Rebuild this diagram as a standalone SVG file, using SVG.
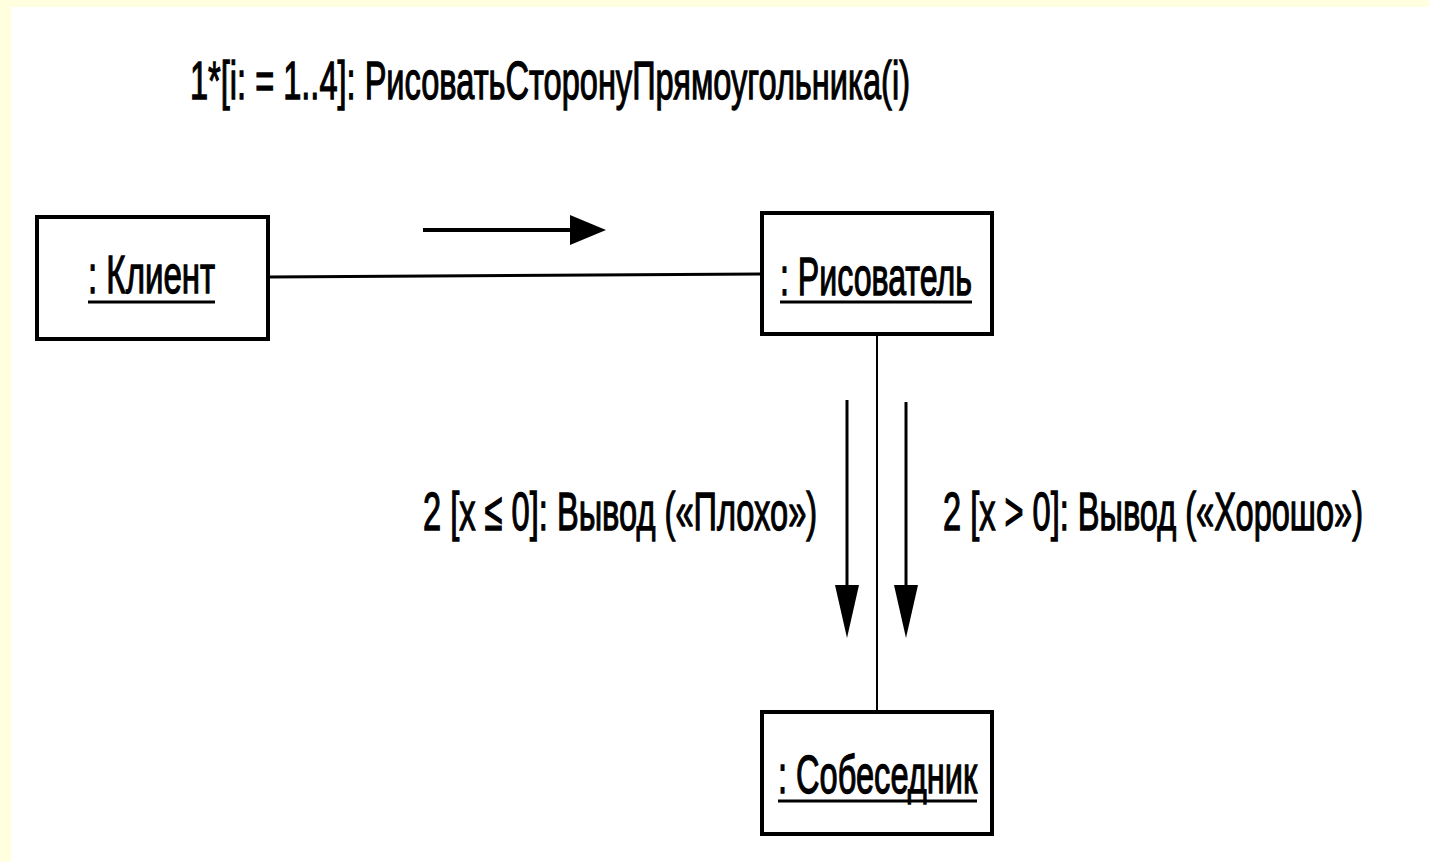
<svg xmlns="http://www.w3.org/2000/svg" width="1429" height="862" viewBox="0 0 1429 862">
<style>
.box{fill:#fff;stroke:#000;stroke-width:4}
.t{font-family:"Liberation Sans",Arial,sans-serif;font-size:54px;fill:#000;stroke:#000;stroke-width:1.3}
.ul{stroke:#000;stroke-width:3}
.ln{stroke:#000;fill:none}
</style>
<rect x="0" y="0" width="1429" height="862" fill="#FFFFE0"/>
<rect x="11" y="7" width="1418" height="855" fill="#fff"/>
<g id="connectors">
<line class="ln" x1="268" y1="277" x2="762" y2="274" stroke-width="3"/>
<line class="ln" x1="877" y1="335" x2="877" y2="712" stroke-width="2"/>
<line class="ln" x1="423" y1="230" x2="575" y2="230" stroke-width="4"/>
<path d="M570,215 L606,230 L570,245 Z" fill="#000"/>
<line class="ln" x1="847" y1="400" x2="847" y2="590" stroke-width="3"/>
<path d="M835,585 L847,638 L859,585 Z" fill="#000"/>
<line class="ln" x1="906" y1="402" x2="906" y2="590" stroke-width="3"/>
<path d="M894,585 L906,638 L918,585 Z" fill="#000"/>
<text class="t" transform="translate(190,99) scale(0.6,1)" textLength="1200" lengthAdjust="spacingAndGlyphs">1*[i: = 1..4]: РисоватьСторонуПрямоугольника(i)</text>
<text class="t" transform="translate(423,530) scale(0.6,1)" textLength="657" lengthAdjust="spacingAndGlyphs">2 [x ≤ 0]: Вывод («Плохо»)</text>
<text class="t" transform="translate(943,530) scale(0.6,1)" textLength="700" lengthAdjust="spacingAndGlyphs">2 [x &gt; 0]: Вывод («Хорошо»)</text>
</g>
<g id="klient">
<rect class="box" x="37" y="217" width="231" height="122"/>
<text class="t" transform="translate(88,293) scale(0.6,1)" textLength="212" lengthAdjust="spacingAndGlyphs">: Клиент</text>
<line class="ul" x1="88" y1="302" x2="215" y2="302"/>
</g>
<g id="risovatel">
<rect class="box" x="762" y="213" width="230" height="121"/>
<text class="t" transform="translate(780,295) scale(0.6,1)" textLength="320" lengthAdjust="spacingAndGlyphs">: Рисователь</text>
<line class="ul" x1="780" y1="302" x2="972" y2="302"/>
</g>
<g id="sobesednik">
<rect class="box" x="762" y="712" width="230" height="122"/>
<text class="t" transform="translate(778,793) scale(0.6,1)" textLength="332" lengthAdjust="spacingAndGlyphs">: Собеседник</text>
<line class="ul" x1="778" y1="801" x2="977" y2="801"/>
</g>
</svg>
